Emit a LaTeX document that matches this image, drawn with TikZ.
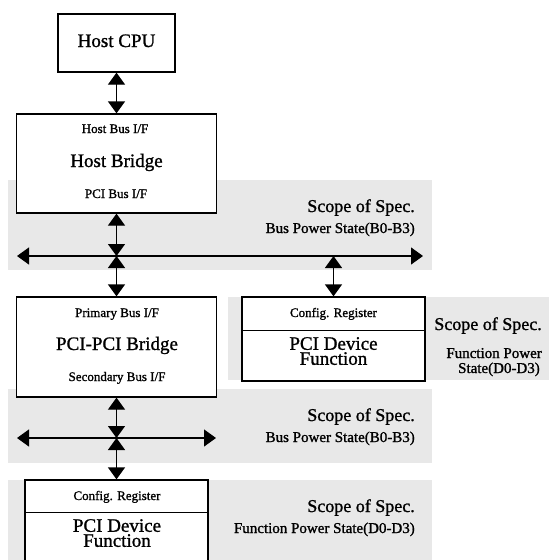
\documentclass[tikz,border=0pt]{standalone}
\usepackage{fontspec}
\setmainfont{Liberation Serif}[BoldFont={Liberation Serif},BoldFeatures={FakeBold=1.2}]
\usetikzlibrary{arrows.meta}
\definecolor{bandgray}{RGB}{232,232,232}

\begin{document}
\begin{tikzpicture}[x=1pt,y=-1pt,>={Triangle[width=17pt,length=12pt]},
  box/.style={draw,line width=1.3pt,fill=white,inner sep=0pt},
  band/.style={fill=bandgray},
  link/.style={<->,line width=1.3pt},
  big/.style={font=\fontsize{19}{15}\bfseries,inner sep=0pt,align=center},
  scope/.style={font=\fontsize{18}{18}\bfseries,inner sep=0pt,anchor=base east},
  mid/.style={font=\fontsize{15}{15}\bfseries,inner sep=0pt,anchor=base east},
  small/.style={font=\fontsize{13}{13}\bfseries,inner sep=0pt,anchor=base}]
\clip (0,0) rectangle (549,560);
% grey bands
\fill[band] (8,180) rectangle (432,270);
\fill[band] (228,297) rectangle (549,380);
\fill[band] (8,389) rectangle (432,463);
\fill[band] (8,480) rectangle (432,560);
% boxes
\node[box,minimum width=117pt,minimum height=58pt] (cpu) at (116.5,43) {};
\node[box,minimum width=200pt,minimum height=99pt] (hb) at (116.5,163.5) {};
\node[box,minimum width=200pt,minimum height=100pt] (ppb) at (116.5,347) {};
\node[box,minimum width=183pt,minimum height=84pt] (dev1) at (333.5,339) {};
\node[box,minimum width=183pt,minimum height=100pt] (dev2) at (116.5,530) {};
\draw[line width=1.3pt] (dev1.north west) ++(0,34) -- ++(183,0);
\draw[line width=1.3pt] (dev2.north west) ++(0,33) -- ++(183,0);
% texts in the boxes
\node[big,anchor=base] (cpuname) at (116.5,47) {Host CPU};
\node[small] (hbtop) at (115,133) {Host Bus I/F};
\node[big,anchor=base] (hbname) at (116.5,167) {Host Bridge};
\node[small] (hbbot) at (116,198) {PCI Bus I/F};
\node[small] (ppbtop) at (117,317) {Primary Bus I/F};
\node[big,anchor=base] (ppbname) at (117,350) {PCI-PCI Bridge};
\node[small] (ppbbot) at (117,381) {Secondary Bus I/F};
\node[small] (dev1reg) at (333.5,317) {Config. Register};
\node[big,anchor=north] (dev1name) at (333.5,337) {PCI Device\\Function};
\node[small] (dev2reg) at (117,500) {Config. Register};
\node[big,anchor=north] (dev2name) at (117,519) {PCI Device\\Function};
% scope texts
\node[scope] (s1) at (415,212) {Scope of Spec.};
\node[mid] (s1b) at (415,233) {Bus Power State(B0-B3)};
\node[scope] (s2) at (542,330) {Scope of Spec.};
\node[mid] (s2b) at (542,358) {Function Power};
\node[mid] (s2c) at (540,373) {State(D0-D3)};
\node[scope] (s3) at (415,421) {Scope of Spec.};
\node[mid] (s3b) at (415,442) {Bus Power State(B0-B3)};
\node[scope] (s4) at (415,512) {Scope of Spec.};
\node[mid] (s4b) at (415,533) {Function Power State(D0-D3)};
% buses
\coordinate (bus1L) at (17,256);
\coordinate (bus1R) at (423,256);
\coordinate (bus2L) at (17,438);
\coordinate (bus2R) at (216,438);
\draw[link] (bus1L) -- (bus1R);
\draw[link] (bus2L) -- (bus2R);
% links
\draw[link] (cpu.south) -- (hb.north);
\draw[link] (hb.south) -- (hb.south |- bus1L);
\draw[link] (hb.south |- bus1L) -- (ppb.north);
\draw[link] (dev1.north |- bus1L) -- (dev1.north);
\draw[link] (ppb.south) -- (ppb.south |- bus2L);
\draw[link] (ppb.south |- bus2L) -- (dev2.north);
\end{tikzpicture}
\end{document}
